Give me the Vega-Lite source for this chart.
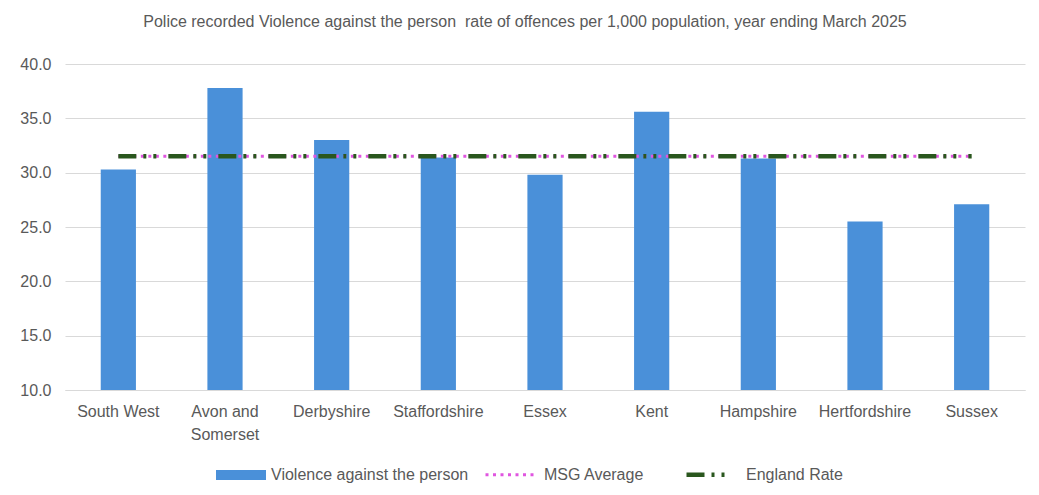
{
  "$schema": "https://vega.github.io/schema/vega-lite/v6.json",
  "autosize": "none",
  "width": 960,
  "height": 326,
  "padding": {"left": 65, "top": 64, "right": 14, "bottom": 105},
  "background": "white",
  "title": {
    "text": "Police recorded Violence against the person \u00a0rate of offences per 1,000 population, year ending March 2025",
    "anchor": "middle",
    "frame": "group",
    "dx": -20,
    "offset": 26,
    "font": "Liberation Sans",
    "fontSize": 16,
    "fontWeight": "normal",
    "color": "#595959"
  },
  "config": {
    "view": {"stroke": null},
    "font": "Liberation Sans",
    "axis": {"labelColor": "#595959", "labelFont": "Liberation Sans", "labelFontSize": 16, "title": null},
    "legend": {"labelFontSize": 16, "labelColor": "#595959", "labelFont": "Liberation Sans", "labelLimit": 400, "title": null, "labelOffset": 6}
  },
  "data": {
    "values": [
      {"region": "South West", "series": "Violence against the person", "value": 30.3},
      {"region": "Avon and Somerset", "series": "Violence against the person", "value": 37.8},
      {"region": "Derbyshire", "series": "Violence against the person", "value": 33.0},
      {"region": "Staffordshire", "series": "Violence against the person", "value": 31.4},
      {"region": "Essex", "series": "Violence against the person", "value": 29.8},
      {"region": "Kent", "series": "Violence against the person", "value": 35.6},
      {"region": "Hampshire", "series": "Violence against the person", "value": 31.3},
      {"region": "Hertfordshire", "series": "Violence against the person", "value": 25.5},
      {"region": "Sussex", "series": "Violence against the person", "value": 27.1},
      {"region": "South West", "series": "MSG Average", "value": 31.5},
      {"region": "Avon and Somerset", "series": "MSG Average", "value": 31.5},
      {"region": "Derbyshire", "series": "MSG Average", "value": 31.5},
      {"region": "Staffordshire", "series": "MSG Average", "value": 31.5},
      {"region": "Essex", "series": "MSG Average", "value": 31.5},
      {"region": "Kent", "series": "MSG Average", "value": 31.5},
      {"region": "Hampshire", "series": "MSG Average", "value": 31.5},
      {"region": "Hertfordshire", "series": "MSG Average", "value": 31.5},
      {"region": "Sussex", "series": "MSG Average", "value": 31.5},
      {"region": "South West", "series": "England Rate", "value": 31.5},
      {"region": "Avon and Somerset", "series": "England Rate", "value": 31.5},
      {"region": "Derbyshire", "series": "England Rate", "value": 31.5},
      {"region": "Staffordshire", "series": "England Rate", "value": 31.5},
      {"region": "Essex", "series": "England Rate", "value": 31.5},
      {"region": "Kent", "series": "England Rate", "value": 31.5},
      {"region": "Hampshire", "series": "England Rate", "value": 31.5},
      {"region": "Hertfordshire", "series": "England Rate", "value": 31.5},
      {"region": "Sussex", "series": "England Rate", "value": 31.5}
    ]
  },
  "encoding": {
    "x": {
      "field": "region",
      "type": "nominal",
      "sort": null,
      "scale": {"paddingInner": 0.67, "paddingOuter": 0.335},
      "axis": {
        "labelAngle": 0,
        "ticks": false,
        "domainColor": "#D9D9D9",
        "labelPadding": 13,
        "labelLineHeight": 23,
        "labelExpr": "datum.label == 'Avon and Somerset' ? ['Avon and', 'Somerset'] : datum.label"
      }
    },
    "y": {
      "field": "value",
      "type": "quantitative",
      "scale": {"domain": [10, 40], "nice": false, "zero": false},
      "axis": {
        "values": [10, 15, 20, 25, 30, 35, 40],
        "format": ".1f",
        "ticks": false,
        "domain": false,
        "gridColor": "#D9D9D9",
        "labelPadding": 14
      }
    }
  },
  "layer": [
    {
      "transform": [{"filter": "datum.series == 'Violence against the person'"}],
      "mark": {"type": "bar", "clip": true},
      "encoding": {
        "fill": {
          "field": "series",
          "type": "nominal",
          "scale": {"domain": ["Violence against the person"], "range": ["#4A90D9"]},
          "legend": {
            "orient": "none",
            "legendX": 151,
            "legendY": 386,
            "direction": "horizontal",
            "symbolType": "M-1,-0.2H1V0.2H-1Z",
            "symbolSize": 2500,
            "symbolStrokeWidth": 0,
            "labelOffset": 5
          }
        }
      }
    },
    {
      "transform": [{"filter": "datum.series != 'Violence against the person'"}],
      "mark": {"type": "line"},
      "encoding": {
        "detail": {"field": "series"},
        "stroke": {
          "field": "series",
          "type": "nominal",
          "scale": {"domain": ["MSG Average", "England Rate"], "range": ["#E055E0", "#2A571E"]},
          "legend": {
            "orient": "none",
            "legendX": 419,
            "legendY": 383,
            "direction": "horizontal",
            "symbolType": "stroke",
            "symbolSize": 2500,
            "columnPadding": 32,
            "labelOffset": 7
          }
        },
        "strokeDash": {
          "field": "series",
          "type": "nominal",
          "scale": {"domain": ["MSG Average", "England Rate"], "range": [[3, 4.5], [18, 7, 3, 7, 3, 12]]}
        },
        "strokeWidth": {
          "field": "series",
          "type": "nominal",
          "scale": {"domain": ["MSG Average", "England Rate"], "range": [3, 4.5]}
        }
      }
    }
  ]
}
